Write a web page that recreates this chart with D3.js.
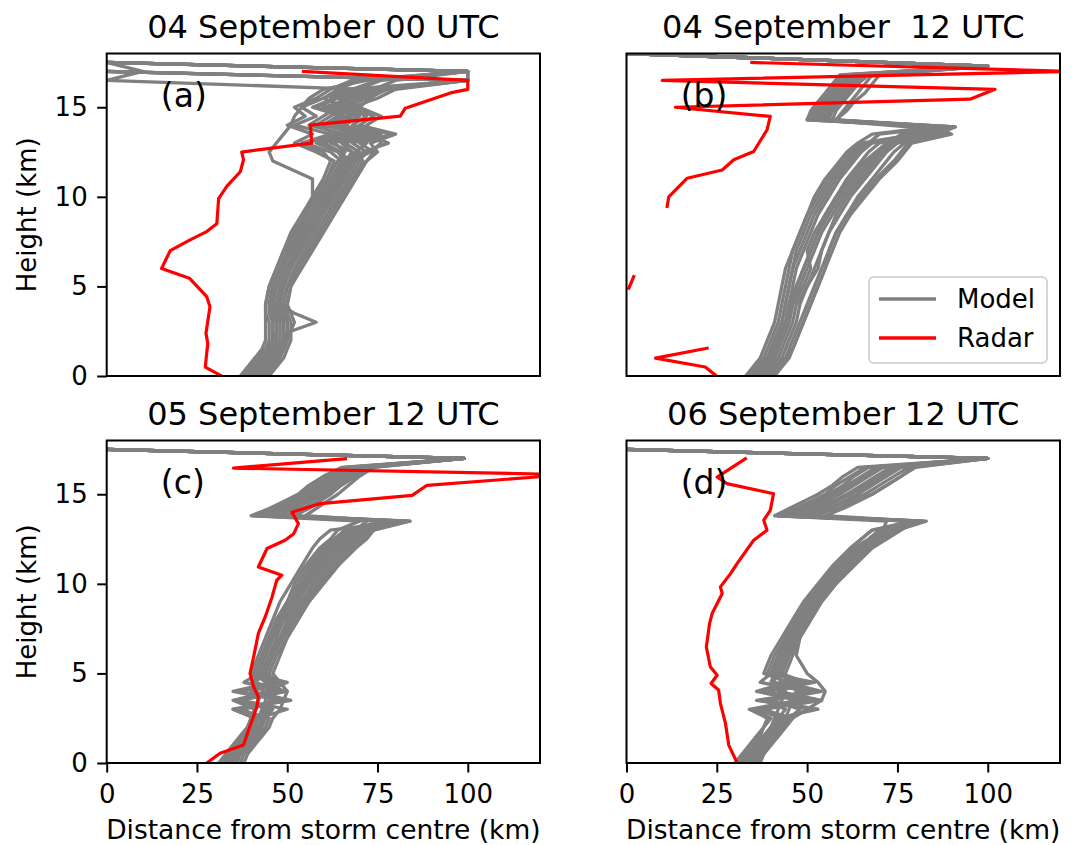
<!DOCTYPE html>
<html>
<head>
<meta charset="utf-8">
<script src="https://cdn.jsdelivr.net/npm/d3@7"></script>
<style>
  body { margin: 0; background: #ffffff; }
  svg { display: block; font-family: "DejaVu Sans", sans-serif; }
  text { white-space: pre; }
</style>
</head>
<body>
<svg id="chart" width="1076" height="845"></svg>
<script>
// ---- Axis ticks -------------------------------------------------------
const xTicks = [0, 25, 50, 75, 100];
const yTicks = [0, 5, 10, 15];

// ---- Panel titles and tags --------------------------------------------
const titles = ["04 September 00 UTC", "04 September  12 UTC", "05 September 12 UTC", "06 September 12 UTC"];
const tags = ["(a)", "(b)", "(c)", "(d)"];

// ---- (a) 04 September 00 UTC ------------------------------------------
// Heights (km) at which each ensemble member's distance (km) is given
const levelsA = [0, 0.5, 1, 1.5, 2, 2.5, 3, 3.5, 4, 5, 6, 7, 8, 9, 10, 11, 12, 12.5, 13, 13.5, 14, 14.5, 15, 15.5, 16, 16.5, 17, 17.5];
const modelA = [
  [38, 40, 42, 44, 45, 45, 45, 44, 44, 45, 47, 49, 52, 55, 58, 61, 64, 66, 63, 70, 60, 64, 62, 66, 70, 100, 0, null],
  [40, 42, 44, 46, 47, 47, 47, 46, 46, 47, 49, 51, 54, 57, 60, 63, 66, 64, 58, 66, 56, 60, 64, 62, 68, 75, 100, 0],
  [42, 44, 46, 47, 48, 48, 48, 47, 47, 48, 50, 53, 56, 59, 62, 65, 68, 70, 66, 74, 62, 66, 58, 64, 72, 100, 0, null],
  [44, 46, 48, 49, 50, 50, 50, 49, 49, 50, 52, 55, 58, 61, 64, 67, 70, 72, 68, 76, 64, 70, 60, 68, 74, 80, 100, 0],
  [39, 41, 43, 45, 46, 46, 46, 46, 45, 46, 48, 50, 53, 56, 59, 62, 65, 62, 55, 64, 58, 62, 66, 60, 66, 100, 100, 0],
  [41, 43, 45, 47, 49, 51, 58, 52, 48, 48, 50, 52, 55, 58, 61, 64, 67, 69, 72, 68, 64, 68, 63, 67, 71, 0, 10, 0],
  [43, 45, 47, 48, 49, 49, 49, 48, 48, 49, 51, 54, 57, 60, 63, 66, 69, 71, 78, 72, 66, 70, 64, 70, 76, 100, 0, null],
  [37, 39, 41, 43, 44, 44, 44, 44, 44, 45, 47, 49, 51, 54, 57, 60, 62, 60, 54, 62, 52, 58, 54, 60, 64, 70, 100, 0],
  [45, 47, 49, 50, 51, 51, 51, 50, 50, 51, 54, 57, 60, 63, 66, 69, 72, 74, 70, 79, 68, 72, 66, 72, 78, 100, 100, 0],
  [40, 42, 44, 46, 47, 47, 47, 46, 46, 47, 49, 51, 53, 55, 57, 57, 46, 45, 47, 49, 51, 52, 54, 56, 60, 72, 100, 0],
  [42, 44, 46, 48, 49, 50, 50, 50, 49, 50, 53, 56, 59, 62, 65, 68, 71, 68, 62, 70, 60, 64, 68, 66, 70, 100, 0, null],
  [39, 41, 43, 45, 46, 46, 46, 45, 45, 46, 48, 51, 54, 57, 60, 63, 66, 68, 65, 72, 61, 65, 57, 63, 69, 76, 100, 0],
  [41, 43, 45, 47, 48, 48, 48, 48, 47, 48, 50, 52, 55, 58, 61, 64, 67, 65, 60, 68, 62, 67, 70, 64, 73, 100, 0, null],
  [43, 45, 47, 49, 50, 51, 52, 51, 50, 51, 53, 56, 59, 62, 65, 68, 72, 75, 73, 80, 70, 74, 68, 75, 80, 100, 100, 0],
  [38, 40, 42, 44, 46, 47, 47, 47, 46, 46, 48, 50, 52, 55, 58, 61, 63, 58, 52, 57, 50, 55, 52, 58, 62, 68, 100, 0],
  [44, 46, 47, 48, 49, 49, 49, 49, 48, 49, 51, 53, 56, 59, 62, 65, 68, 73, 76, 74, 72, 76, 70, 73, 77, 100, 0, null]
];
const radarA_h = [0.05, 0.5, 1.27, 1.8, 2.38, 3.87, 4.43, 5.46, 6.0, 7.0, 7.6, 8.06, 8.5, 9.9, 10.6, 11.4, 12.07, 12.5, 13.0, 14.0, 14.5, 14.95, 15.8, 16.0, 16.5, 17.0];
const radarA_x = [31.4, 27.3, 27.7, 28.0, 27.5, 28.6, 27.7, 22.9, 15.2, 17.6, 23.1, 27.7, 30.5, 31.0, 33.3, 37.0, 37.9, 37.4, 56.8, 56.4, 81.3, 82.7, 95.2, 100, 100, 54.5];

// ---- (b) 04 September 12 UTC ------------------------------------------
const levelsB = [0, 0.5, 1, 1.5, 2, 2.5, 3, 4, 5, 6, 7, 8, 9, 10, 11, 12, 12.5, 13, 13.5, 13.9, 14.3, 14.8, 15.3, 15.8, 16.3, 16.8, 17.3, 18];
const modelB = [
  [34, 36, 38, 39, 40, 41, 42, 43, 44, 45, 46, 48, 50, 53, 56, 60, 62, 65, 80, 90, 52, 53, 55, 57, 59, 61, 100, 0],
  [36, 38, 40, 41, 42, 43, 44, 45, 46, 47, 49, 51, 53, 56, 59, 63, 65, 68, 88, 78, 54, 55, 57, 59, 61, 63, 100, 0],
  [38, 40, 41, 42, 43, 44, 45, 46, 47, 49, 51, 53, 56, 59, 63, 67, 70, 73, 76, 91, 55, 57, 59, 61, 63, 65, 100, 0],
  [35, 37, 39, 40, 41, 42, 43, 44, 45, 46, 47, 49, 51, 54, 57, 61, 63, 66, 82, 89, 50, 52, 54, 56, 58, 60, 100, 0],
  [40, 42, 44, 45, 46, 47, 48, 50, 52, 54, 56, 58, 61, 64, 68, 72, 74, 77, 80, 90, 57, 58, 60, 62, 64, 66, 100, 0],
  [37, 39, 41, 42, 43, 44, 45, 46, 48, 50, 52, 54, 57, 60, 64, 68, 71, 74, 85, 84, 53, 55, 58, 60, 62, 64, 100, 0],
  [39, 41, 43, 44, 45, 46, 47, 48, 50, 52, 54, 56, 59, 62, 66, 70, 72, 75, 89, 80, 56, 57, 59, 62, 64, 67, 100, 0],
  [36, 38, 39, 40, 41, 42, 43, 44, 45, 46, 48, 50, 52, 55, 58, 62, 64, 67, 70, 88, 51, 53, 56, 58, 60, 62, 100, 0],
  [41, 43, 45, 46, 47, 48, 49, 51, 53, 55, 56, 58, 61, 65, 69, 74, 76, 78, 86, 91, 58, 60, 62, 64, 66, 68, 100, 0],
  [35, 37, 39, 41, 42, 43, 44, 45, 47, 49, 51, 53, 55, 58, 61, 65, 67, 70, 78, 87, 52, 54, 57, 59, 61, 63, 100, 0],
  [38, 40, 42, 43, 44, 45, 46, 47, 50, 53, 54, 56, 58, 61, 65, 69, 71, 73, 84, 89, 55, 56, 58, 61, 63, 65, 100, 0],
  [33, 35, 37, 38, 39, 40, 41, 42, 43, 44, 46, 48, 50, 52, 55, 59, 61, 64, 68, 85, 50, 51, 53, 55, 57, 59, 100, 0],
  [40, 42, 44, 46, 47, 48, 49, 51, 53, 55, 57, 59, 62, 66, 70, 75, 77, 79, 90, 86, 58, 61, 63, 66, 68, 70, 100, 0],
  [37, 39, 40, 41, 42, 43, 44, 46, 49, 51, 50, 52, 55, 58, 62, 66, 69, 72, 87, 90, 54, 56, 59, 61, 64, 66, 100, 0]
];
// gaps in the radar retrieval are marked with null
const radarB_h = [0.05, 0.5, 1.0, 1.55, null, 4.9, 5.55, null, 9.46, 10.0, 11.04, 11.5, 12.07, 12.53, 13.74, 14.49, 15.0, 15.45, 16.0, 16.5, 17.0, 17.5];
const radarB_x = [24.6, 21.8, 8.0, 22.3, null, 0.65, 2.0, null, 11.25, 11.7, 16.8, 26.5, 29.7, 35.2, 38.9, 39.8, 13.5, 95.1, 102, 9.9, 123, 34.7];

// ---- (c) 05 September 12 UTC ------------------------------------------
const levelsC = [0, 0.5, 1, 1.5, 2, 2.5, 3, 3.5, 4, 4.5, 5, 6, 7, 8, 9, 10, 11, 12, 12.5, 13, 13.5, 13.8, 14.2, 14.6, 15, 15.5, 16, 16.5, 17, 17.5];
const modelC = [
  [33, 34, 36, 38, 40, 41, 35, 49, 37, 47, 42, 44, 46, 48, 51, 54, 57, 61, 64, 67, 81, 44, 48, 52, 56, 59, 63, 68, 99, 0],
  [35, 36, 38, 40, 42, 43, 45, 36, 50, 40, 43, 45, 47, 49, 52, 55, 59, 63, 66, 69, 72, 46, 50, 54, 57, 61, 65, 70, 99, 0],
  [31, 33, 35, 37, 39, 40, 41, 42, 43, 44, 41, 43, 45, 47, 50, 53, 56, 60, 63, 66, 84, 42, 47, 51, 55, 58, 62, 67, 99, 0],
  [37, 38, 40, 42, 44, 45, 36, 51, 40, 48, 44, 46, 48, 51, 54, 57, 61, 65, 68, 71, 80, 47, 52, 55, 58, 62, 66, 71, 99, 0],
  [34, 35, 37, 39, 41, 42, 50, 37, 48, 38, 42, 44, 46, 49, 52, 55, 58, 62, 65, 68, 83, 45, 49, 53, 57, 60, 64, 69, 99, 0],
  [36, 37, 39, 41, 43, 44, 45, 46, 47, 46, 45, 47, 50, 53, 56, 60, 64, 68, 71, 74, 78, 55, 58, 61, 64, 67, 70, 74, 99, 0],
  [32, 33, 35, 37, 39, 40, 41, 35, 45, 50, 40, 42, 44, 46, 48, 51, 54, 57, 59, 62, 82, 41, 46, 50, 54, 57, 61, 66, 99, 0],
  [38, 39, 41, 43, 45, 46, 48, 49, 50, 48, 46, 48, 50, 53, 56, 60, 64, 69, 72, 74, 84, 48, 52, 56, 60, 64, 68, 73, 99, 0],
  [35, 36, 38, 39, 40, 41, 35, 50, 36, 49, 41, 43, 45, 47, 50, 52, 55, 59, 62, 64, 70, 40, 45, 49, 53, 56, 60, 65, 99, 0],
  [33, 35, 37, 39, 41, 42, 43, 44, 44, 45, 43, 45, 48, 51, 54, 58, 62, 66, 69, 72, 80, 46, 51, 55, 59, 63, 67, 72, 99, 0],
  [34, 36, 38, 40, 42, 44, 46, 37, 49, 41, 44, 46, 49, 52, 55, 59, 63, 67, 70, 73, 82, 52, 56, 59, 62, 65, 69, 73, 99, 0],
  [36, 37, 38, 40, 41, 42, 38, 48, 35, 46, 41, 43, 45, 48, 51, 54, 58, 62, 64, 67, 76, 43, 47, 51, 55, 59, 64, 70, 99, 0],
  [32, 34, 36, 38, 40, 42, 44, 45, 46, 47, 44, 46, 48, 50, 53, 56, 60, 64, 67, 70, 79, 50, 54, 58, 61, 64, 67, 71, 99, 0]
];
const radarC_h = [0, 0.54, 1.0, 1.84, 3.14, 3.7, 4.25, 5.0, 5.93, 7.23, 8.15, 9.27, 10.2, 10.48, 10.94, 11.97, 12.43, 12.8, 13.36, 14.0, 14.48, 14.94, 15.5, 16.1, 16.46, 16.98];
const radarC_x = [27.7, 31.4, 37.9, 39.3, 41.6, 42.0, 40.7, 39.7, 40.7, 42.0, 43.9, 45.8, 47.1, 48.5, 42.0, 44.4, 49.4, 51.8, 53.1, 51.3, 59.2, 84.6, 88.7, 128, 35.1, 66.1];

// ---- (d) 06 September 12 UTC ------------------------------------------
const levelsD = [0, 0.5, 1, 1.5, 2, 2.5, 3, 3.5, 4, 4.5, 5, 6, 7, 8, 9, 10, 11, 12, 12.5, 13, 13.5, 13.8, 14.2, 14.6, 15, 15.5, 16, 16.5, 17, 17.5];
const modelD = [
  [31, 33, 35, 37, 38, 40, 35, 52, 38, 50, 40, 42, 44, 47, 50, 54, 58, 63, 67, 70, 80, 42, 47, 51, 55, 58, 62, 66, 100, 0],
  [33, 35, 37, 39, 41, 43, 51, 36, 53, 40, 41, 43, 45, 48, 51, 55, 59, 64, 68, 72, 82, 44, 49, 54, 58, 62, 66, 70, 100, 0],
  [35, 36, 38, 40, 42, 44, 36, 50, 37, 48, 42, 44, 46, 49, 52, 56, 60, 65, 69, 73, 78, 46, 52, 57, 61, 65, 69, 73, 100, 0],
  [30, 32, 34, 36, 38, 39, 34, 48, 36, 45, 38, 40, 43, 46, 49, 53, 57, 62, 65, 68, 81, 41, 45, 49, 53, 57, 60, 64, 100, 0],
  [36, 38, 40, 42, 44, 46, 50, 54, 55, 53, 50, 47, 48, 50, 53, 57, 61, 66, 70, 74, 79, 50, 56, 60, 64, 68, 72, 76, 100, 0],
  [32, 34, 36, 38, 40, 42, 53, 38, 50, 37, 40, 42, 45, 48, 51, 55, 59, 64, 68, 71, 72, 42, 48, 53, 57, 61, 65, 69, 100, 0],
  [34, 36, 38, 40, 42, 44, 45, 46, 47, 46, 43, 45, 47, 50, 53, 57, 62, 67, 71, 75, 83, 48, 55, 61, 66, 70, 74, 78, 100, 0],
  [37, 38, 40, 42, 44, 46, 37, 51, 39, 49, 43, 45, 48, 51, 54, 58, 63, 68, 72, 76, 80, 55, 60, 64, 68, 72, 76, 80, 100, 0],
  [33, 34, 36, 38, 40, 41, 42, 43, 44, 43, 41, 43, 46, 48, 51, 54, 58, 62, 65, 68, 79, 43, 47, 52, 56, 60, 63, 67, 100, 0],
  [35, 37, 39, 41, 43, 45, 38, 54, 42, 50, 42, 44, 47, 50, 53, 57, 61, 66, 70, 73, 82, 47, 53, 58, 62, 66, 70, 74, 100, 0],
  [32, 34, 36, 38, 40, 42, 44, 38, 52, 41, 41, 43, 46, 49, 52, 56, 60, 65, 70, 74, 77, 52, 58, 63, 68, 72, 76, 79, 100, 0],
  [36, 37, 39, 41, 43, 45, 48, 40, 54, 44, 44, 46, 48, 51, 54, 58, 62, 67, 71, 75, 81, 45, 50, 55, 59, 63, 67, 71, 100, 0],
  [34, 35, 37, 39, 41, 43, 36, 47, 38, 52, 39, 41, 44, 47, 50, 54, 59, 64, 68, 72, 80, 44, 51, 57, 62, 67, 71, 75, 100, 0]
];
const radarD_h = [0.02, 1.0, 2.21, 3.33, 4.07, 4.44, 4.9, 5.37, 6.48, 7.79, 8.34, 8.9, 9.46, 9.83, 10.57, 11.13, 12.43, 12.99, 13.55, 14.1, 15.03, 15.59, 15.96, 16.98];
const radarD_x = [30.6, 28.3, 27.4, 26.0, 25.5, 23.4, 25.1, 23.2, 22.1, 23.0, 23.7, 25.1, 26.5, 26.0, 28.8, 30.6, 35.2, 38.9, 38.0, 39.8, 40.7, 27.8, 25.1, 32.9];

// ---- Layout -------------------------------------------------------------
const svg = d3.select("#chart");
const FONT = "DejaVu Sans";
const MODEL_COLOR = "#808080";
const RADAR_COLOR = "#ff0000";

const panels = [
  { title: titles[0], tag: tags[0], left: 106.7, top: 53.5, width: 433.3, height: 322.5,
    levels: levelsA, model: modelA, rh: radarA_h, rx: radarA_x, showX: false, showY: true, legend: false },
  { title: titles[1], tag: tags[1], left: 626.5, top: 53.5, width: 433.5, height: 322.5,
    levels: levelsB, model: modelB, rh: radarB_h, rx: radarB_x, showX: false, showY: false, legend: true },
  { title: titles[2], tag: tags[2], left: 106.7, top: 440.5, width: 433.3, height: 322.5,
    levels: levelsC, model: modelC, rh: radarC_h, rx: radarC_x, showX: true, showY: true, legend: false },
  { title: titles[3], tag: tags[3], left: 626.5, top: 440.5, width: 433.5, height: 322.5,
    levels: levelsD, model: modelD, rh: radarD_h, rx: radarD_x, showX: true, showY: false, legend: false }
];

panels.forEach((p, pi) => {
  const x = d3.scaleLinear().domain([0, 120]).range([p.left, p.left + p.width]);
  const y = d3.scaleLinear().domain([0, 18]).range([p.top + p.height, p.top]);

  const clipId = "plot-clip-" + pi;
  svg.append("clipPath").attr("id", clipId)
    .append("rect")
    .attr("x", p.left).attr("y", p.top)
    .attr("width", p.width).attr("height", p.height);

  const plot = svg.append("g").attr("clip-path", `url(#${clipId})`);

  const line = d3.line()
    .defined(d => d[0] != null && d[1] != null)
    .x(d => x(d[0]))
    .y(d => y(d[1]));

  // ensemble members
  p.model.forEach(member => {
    plot.append("path")
      .datum(p.levels.map((h, i) => [member[i], h]))
      .attr("d", line)
      .attr("fill", "none")
      .attr("stroke", MODEL_COLOR)
      .attr("stroke-width", 3.3)
      .attr("stroke-linejoin", "round")
      .attr("stroke-linecap", "square");
  });

  // radar-derived profile
  plot.append("path")
    .datum(p.rh.map((h, i) => [p.rx[i], h]))
    .attr("d", line)
    .attr("fill", "none")
    .attr("stroke", RADAR_COLOR)
    .attr("stroke-width", 3.2)
    .attr("stroke-linejoin", "round")
    .attr("stroke-linecap", "square");

  // panel tag
  svg.append("text")
    .attr("x", x(15)).attr("y", y(15))
    .attr("font-family", FONT).attr("font-size", 33)
    .attr("fill", "#000")
    .text(p.tag);

  // axes
  if (p.showY) {
    const ay = svg.append("g")
      .attr("transform", `translate(${p.left},0)`)
      .call(d3.axisLeft(y).tickValues(yTicks).tickSize(9.5).tickPadding(9.5).tickFormat(d3.format("d")));
    ay.select(".domain").remove();
    ay.selectAll(".tick line").attr("stroke", "#000").attr("stroke-width", 2);
    ay.selectAll(".tick text").attr("font-family", FONT).attr("font-size", 26).attr("fill", "#000");

    svg.append("text")
      .attr("transform", `translate(36,${p.top + p.height / 2}) rotate(-90)`)
      .attr("text-anchor", "middle")
      .attr("font-family", FONT).attr("font-size", 26)
      .attr("fill", "#000")
      .text("Height (km)");
  }
  if (p.showX) {
    const ax = svg.append("g")
      .attr("transform", `translate(0,${p.top + p.height})`)
      .call(d3.axisBottom(x).tickValues(xTicks).tickSize(9.5).tickPadding(12).tickFormat(d3.format("d")));
    ax.select(".domain").remove();
    ax.selectAll(".tick line").attr("stroke", "#000").attr("stroke-width", 2);
    ax.selectAll(".tick text").attr("font-family", FONT).attr("font-size", 26).attr("fill", "#000");

    svg.append("text")
      .attr("x", p.left + p.width / 2).attr("y", p.top + p.height + 76)
      .attr("text-anchor", "middle")
      .attr("font-family", FONT).attr("font-size", 26.5)
      .attr("fill", "#000")
      .text("Distance from storm centre (km)");
  }

  // frame
  svg.append("rect")
    .attr("x", p.left).attr("y", p.top)
    .attr("width", p.width).attr("height", p.height)
    .attr("fill", "none").attr("stroke", "#000").attr("stroke-width", 2);

  // title
  svg.append("text")
    .attr("x", p.left + p.width / 2).attr("y", p.top - 16)
    .attr("text-anchor", "middle")
    .attr("font-family", FONT).attr("font-size", 32)
    .attr("fill", "#000")
    .text(p.title);

  // legend
  if (p.legend) {
    const lg = svg.append("g");
    lg.append("rect")
      .attr("x", 869).attr("y", 277).attr("width", 178).attr("height", 86)
      .attr("rx", 5).attr("ry", 5)
      .attr("fill", "#ffffff").attr("fill-opacity", 0.8)
      .attr("stroke", "#d6d6d6").attr("stroke-width", 2);
    const items = [["Model", MODEL_COLOR, 299], ["Radar", RADAR_COLOR, 338]];
    items.forEach(([name, color, yy]) => {
      lg.append("line")
        .attr("x1", 879).attr("x2", 936).attr("y1", yy).attr("y2", yy)
        .attr("stroke", color).attr("stroke-width", 3.3);
      lg.append("text")
        .attr("x", 957).attr("y", yy).attr("dy", "0.36em")
        .attr("font-family", FONT).attr("font-size", 26)
        .attr("fill", "#000")
        .text(name);
    });
  }
});
</script>
</body>
</html>
